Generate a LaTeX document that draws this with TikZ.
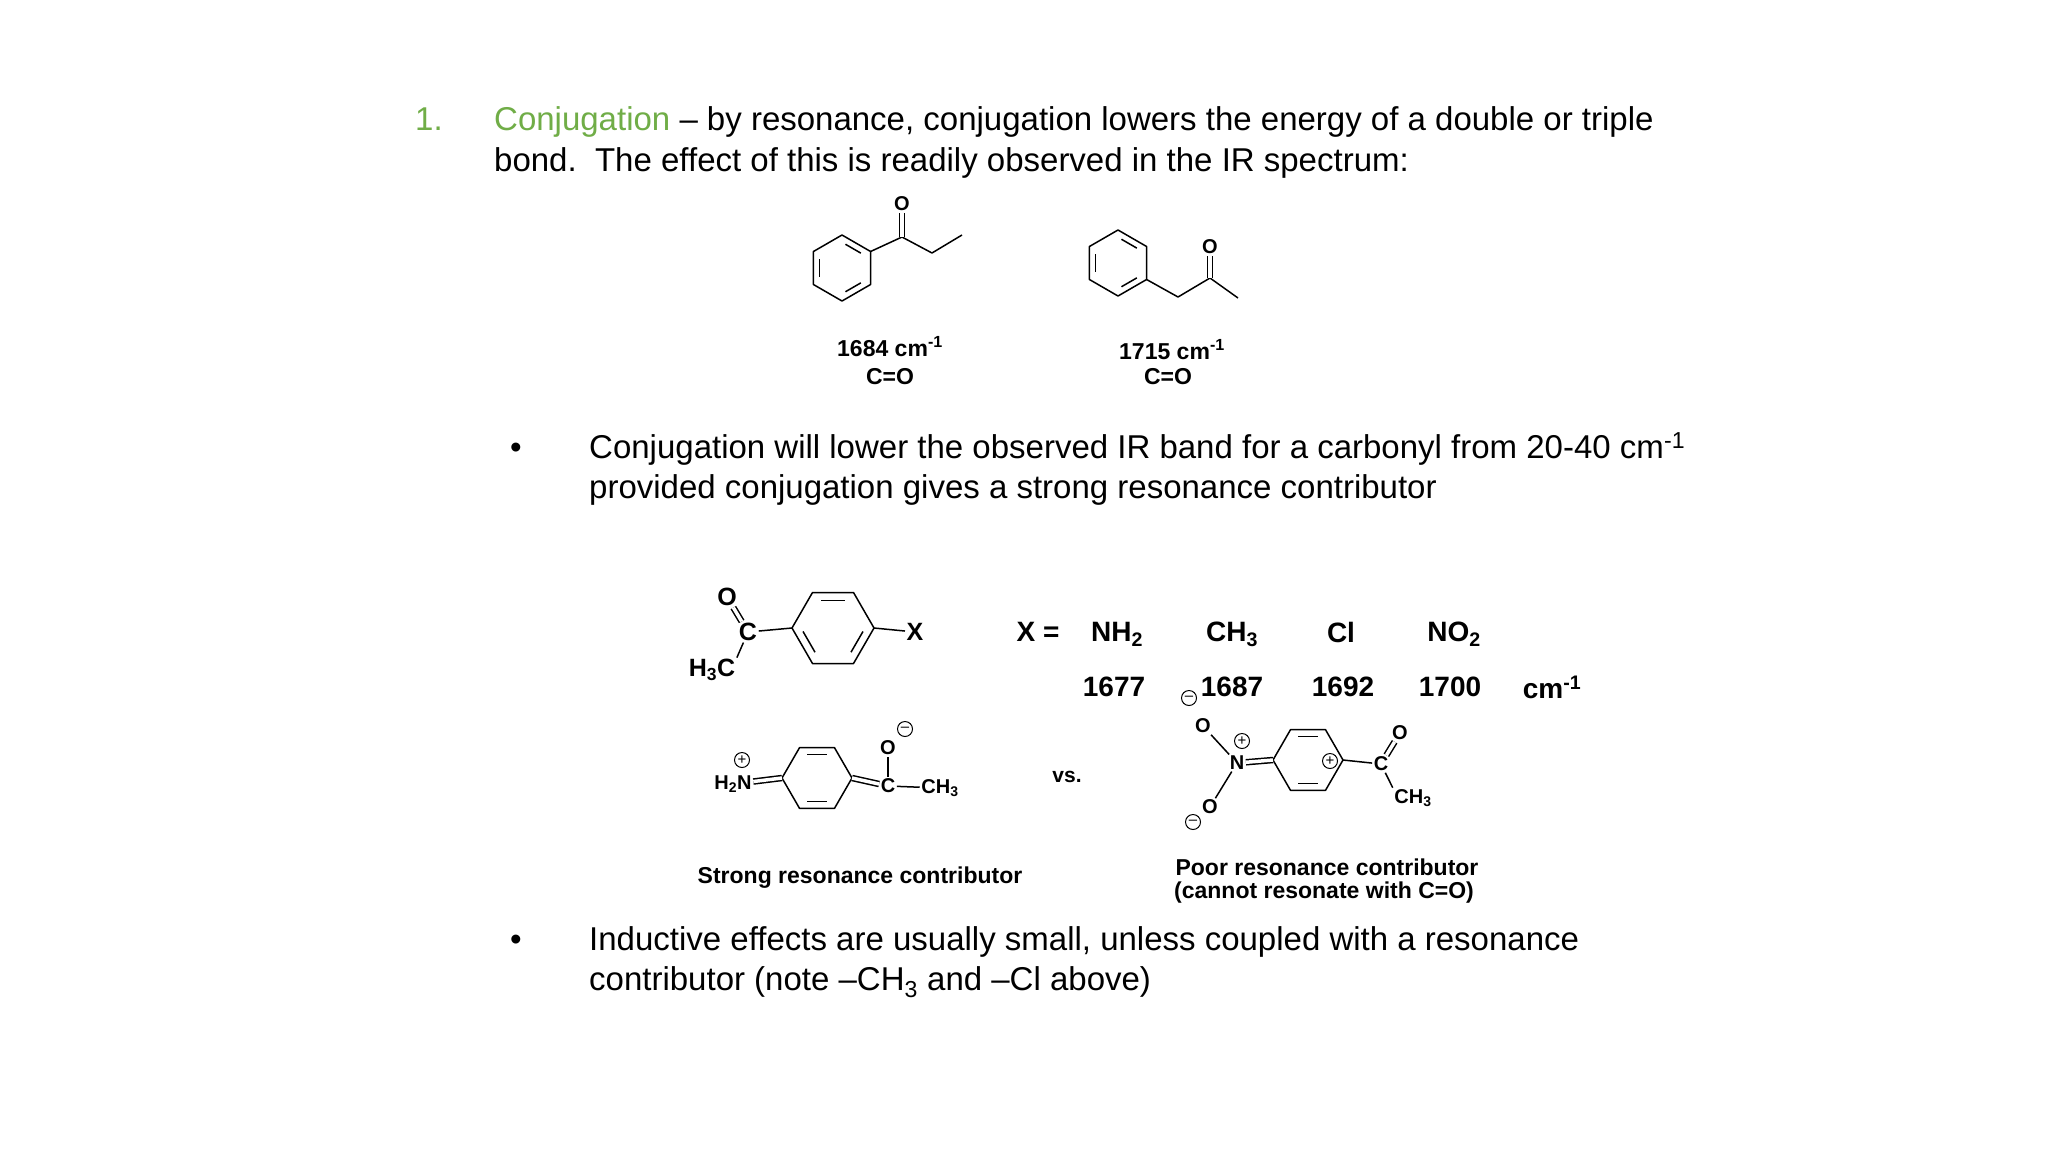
\documentclass[tikz,border=0pt]{standalone}
\usepackage{fontspec}
\setmainfont{Liberation Sans}
\usetikzlibrary{calc}
\definecolor{cgreen}{HTML}{70AD47}
\newcommand\hexring[4]{% name, center, radius, start angle
  \foreach \i in {0,...,5}{\coordinate (#1-\i) at ($(#2)+({#4+60*\i}:#3)$);}
  \draw[bond] (#1-0)--(#1-1)--(#1-2)--(#1-3)--(#1-4)--(#1-5)--cycle;}
\newcommand\inb[3]{\draw[bond,shorten <=4pt,shorten >=4pt] ($(#1)!0.78!(#2)$)--($(#1)!0.78!(#3)$);}
\begin{document}
\begin{tikzpicture}[x=1pt,y=-1pt,
  bond/.style={line width=1.5pt,line join=round},
  dbl/.style={line width=1.5pt,double,double distance=3.5pt},
  maintxt/.style={anchor=base west,inner sep=0,font=\fontsize{33}{40}\selectfont},
  lab/.style={inner sep=0,font=\bfseries\fontsize{23}{27}\selectfont,align=center},
  atm/.style={inner sep=1.5pt,font=\bfseries\fontsize{25}{28}\selectfont},
  satm/.style={inner sep=1.5pt,font=\bfseries\fontsize{20}{24}\selectfont},
  num/.style={inner sep=0,font=\bfseries\fontsize{28}{32}\selectfont},
  chg/.style={circle,draw,line width=1pt,inner sep=0,minimum size=15pt,font=\fontsize{15}{15}\selectfont}]
\useasboundingbox (0,0) rectangle (2048,1152);
% title
\node[maintxt,text=cgreen] (n1) at (415,130) {1.};
\node[maintxt] (t1) at (494,130) {\textcolor{cgreen}{Conjugation} – by resonance, conjugation lowers the energy of a double or triple};
\node[maintxt] (t2) at (494,171) {bond.\ \ The effect of this is readily observed in the IR spectrum:};
% molecule 1
\coordinate (m1) at (842,268);
\hexring{a}{m1}{33}{30}
\inb{m1}{a-4}{a-5}\inb{m1}{a-0}{a-1}\inb{m1}{a-2}{a-3}
\coordinate (a6) at (902,237);
\node[satm] (aO) at (902,204) {O};
\coordinate (a7) at (932,253);
\coordinate (a8) at (962,235);
\draw[bond] (a-5)--(a6)--(a7)--(a8);
\draw[dbl] (a6)--(aO);
\node[lab] (al1) at (890,347) {1684 cm\textsuperscript{-1}};
\node[lab] (al2) at (890,377) {C=O};
% molecule 2
\coordinate (m2) at (1118,263);
\hexring{b}{m2}{33}{30}
\inb{m2}{b-4}{b-5}\inb{m2}{b-0}{b-1}\inb{m2}{b-2}{b-3}
\coordinate (b6) at (1178,297);
\coordinate (b7) at (1210,278);
\node[satm] (bO) at (1210,247) {O};
\coordinate (b8) at (1238,298);
\draw[bond] (b-0)--(b6)--(b7)--(b8);
\draw[dbl] (b7)--(bO);
\node[lab] (bl1) at (1172,350) {1715 cm\textsuperscript{-1}};
\node[lab] (bl2) at (1168,377) {C=O};
% bullet 1
\node[maintxt] (bu1) at (510,458) {•};
\node[maintxt] (bt1) at (589,458) {Conjugation will lower the observed IR band for a carbonyl from 20-40 cm\textsuperscript{-1}};
\node[maintxt] (bt2) at (589,498) {provided conjugation gives a strong resonance contributor};
% molecule 3
\coordinate (m3) at (833,628);
\hexring{c}{m3}{41}{0}
\inb{m3}{c-4}{c-5}\inb{m3}{c-0}{c-1}\inb{m3}{c-2}{c-3}
\node[atm] (cC) at (748,632) {C};
\node[atm] (cO) at (727,597) {O};
\node[atm] (cMe) at (712,670) {H\textsubscript{3}C};
\node[atm] (cX) at (915,632) {X};
\draw[bond] (cC)--(c-3);
\draw[bond] (c-0)--(cX);
\draw[dbl] (cC)--(cO);
\draw[bond] (cC)--(cMe.north east);
% X table
\node[num] (xeq) at (1038,632) {X =};
\node[num] (x1) at (1117,634) {NH\textsubscript{2}};
\node[num] (x2) at (1232,634) {CH\textsubscript{3}};
\node[num] (x3) at (1341,632) {Cl};
\node[num] (x4) at (1454,634) {NO\textsubscript{2}};
\node[num] (v1) at (1114,687) {1677};
\node[num] (v2) at (1232,687) {1687};
\node[num] (v3) at (1343,687) {1692};
\node[num] (v4) at (1450,687) {1700};
\node[num] (v5) at (1552,687) {cm\textsuperscript{-1}};
% molecule 4
\coordinate (m4) at (817,778);
\hexring{d}{m4}{35}{0}
\inb{m4}{d-4}{d-5}\inb{m4}{d-1}{d-2}
\node[satm] (dN) at (733,784) {H\textsubscript{2}N};
\node[chg] (dp) at (742,760) {+};
\node[satm] (dC) at (888,786) {C};
\node[satm] (dO) at (888,748) {O};
\node[chg] (dm) at (905,729) {–};
\node[satm] (dMe) at (940,788) {CH\textsubscript{3}};
\draw[dbl] (dN)--(d-3);
\draw[dbl] (d-0)--(dC);
\draw[bond] (dC)--(dO);
\draw[bond] (dC)--(dMe);
\node[num,font=\bfseries\fontsize{21}{24}\selectfont] (vs) at (1067,777) {vs.};
% molecule 5
\coordinate (m5) at (1308,760);
\hexring{e}{m5}{35}{0}
\inb{m5}{e-4}{e-5}\inb{m5}{e-1}{e-2}
\node[satm] (eN) at (1237,763) {N};
\node[chg] (ep) at (1242,741) {+};
\node[satm] (eO1) at (1203,726) {O};
\node[chg] (em1) at (1189,698) {–};
\node[satm] (eO2) at (1210,807) {O};
\node[chg] (em2) at (1193,822) {–};
\node[chg] (ep2) at (1330,761) {+};
\node[satm] (eC) at (1381,764) {C};
\node[satm] (eO3) at (1400,733) {O};
\node[satm] (eMe) at (1413,798) {CH\textsubscript{3}};
\draw[dbl] (eN)--(e-3);
\draw[bond] (eN)--(eO1);
\draw[bond] (eN)--(eO2);
\draw[bond] (e-0)--(eC);
\draw[dbl] (eC)--(eO3);
\draw[bond] (eC)--(eMe.north west);
% captions
\node[lab] (cap1) at (860,878) {Strong resonance contributor};
\node[lab] (cap2) at (1327,867) {Poor resonance contributor};
\node[lab] (cap3) at (1324,893) {(cannot resonate with C=O)};
% bullet 2
\node[maintxt] (bu2) at (510,950) {•};
\node[maintxt] (bt3) at (589,950) {Inductive effects are usually small, unless coupled with a resonance};
\node[maintxt] (bt4) at (589,990) {contributor (note –CH\textsubscript{3} and –Cl above)};
\end{tikzpicture}
\end{document}
